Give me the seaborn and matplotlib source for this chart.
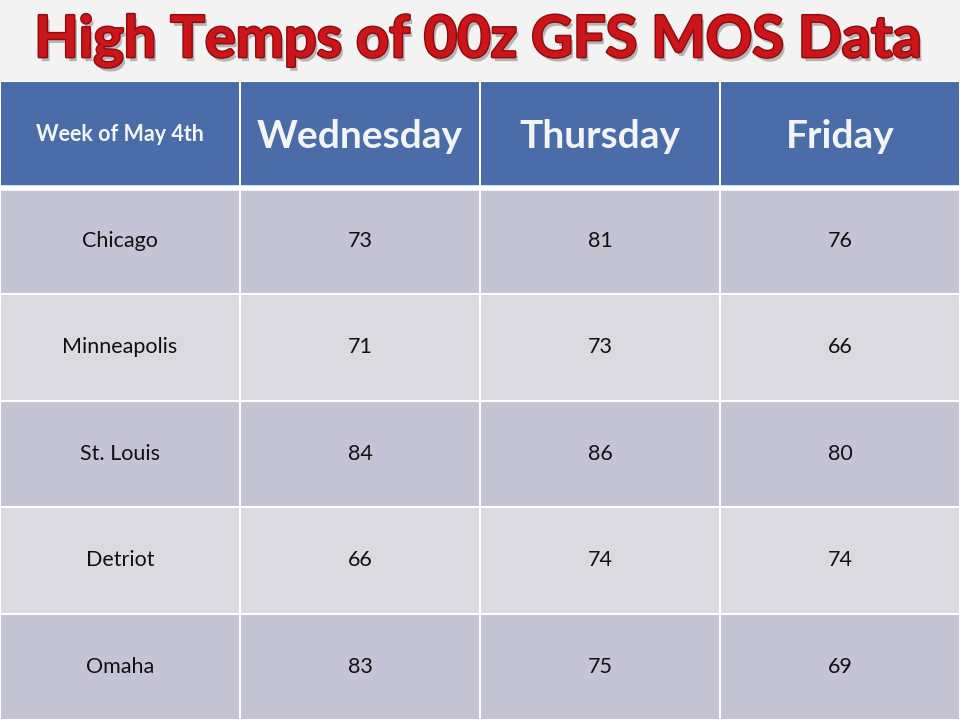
import numpy as np
import pandas as pd
import matplotlib.pyplot as plt
import matplotlib.patheffects as pe
from matplotlib.colors import ListedColormap
import seaborn as sns

# Table contents
title = 'High Temps of 00z GFS MOS Data'
corner_label = 'Week of May 4th'
days = ['Wednesday', 'Thursday', 'Friday']
cities = ['Chicago', 'Minneapolis', 'St. Louis', 'Detriot', 'Omaha']
wednesday = [73, 71, 84, 66, 83]
thursday = [81, 73, 86, 74, 75]
friday = [76, 66, 80, 74, 69]

temps = pd.DataFrame({'Wednesday': wednesday, 'Thursday': thursday, 'Friday': friday},
                     index=cities)

# colour index per cell: 2 = header, 0/1 = banded rows
n_rows = len(cities) + 1
n_cols = len(days) + 1
shade = np.zeros((n_rows, n_cols))
shade[0, :] = 2
for i in range(1, n_rows):
    shade[i, :] = 0 if i % 2 == 1 else 1

cmap = ListedColormap(['#c4c4d4', '#dbdae1', '#4a6ca8'])

sns.set_theme(style='white')
plt.rcParams['font.family'] = ['Lato', 'DejaVu Sans']

fig = plt.figure(figsize=(9.6, 7.2), dpi=100)
fig.patch.set_facecolor('#f3f3f3')
ax = fig.add_axes([0, 0, 1, 639 / 720])

sns.heatmap(shade, cmap=cmap, vmin=0, vmax=2, cbar=False, annot=False,
            linewidths=1.2, linecolor='white', ax=ax)
ax.set_xticks([])
ax.set_yticks([])
ax.axhline(1, color='white', lw=4)

# header row
ax.text(0.5, 0.5, corner_label, ha='center', va='center', color='#f4f4f4',
        fontsize=15.5, fontweight='bold')
for j, d in enumerate(days):
    ax.text(j + 1.5, 0.52, d, ha='center', va='center', color='#f4f4f4',
            fontsize=28, fontweight='bold')

# body rows
for i, city in enumerate(temps.index):
    ax.text(0.5, i + 1.5, city, ha='center', va='center', color='#111111', fontsize=15.5)
    for j, d in enumerate(days):
        ax.text(j + 1.5, i + 1.5, str(temps.loc[city, d]), ha='center', va='center',
                color='#111111', fontsize=15.5)

fig.text(0.498, 1 - 57 / 720, title, ha='center', va='baseline', color='#cc1518',
         fontsize=41.5, fontweight='bold',
         path_effects=[pe.withSimplePatchShadow(offset=(2, -3), shadow_rgbFace='#777777', alpha=0.5),
                       pe.Stroke(linewidth=2, foreground='#8a0c0e'), pe.Normal()])

fig.savefig('out.png', dpi=100, facecolor=fig.get_facecolor())
